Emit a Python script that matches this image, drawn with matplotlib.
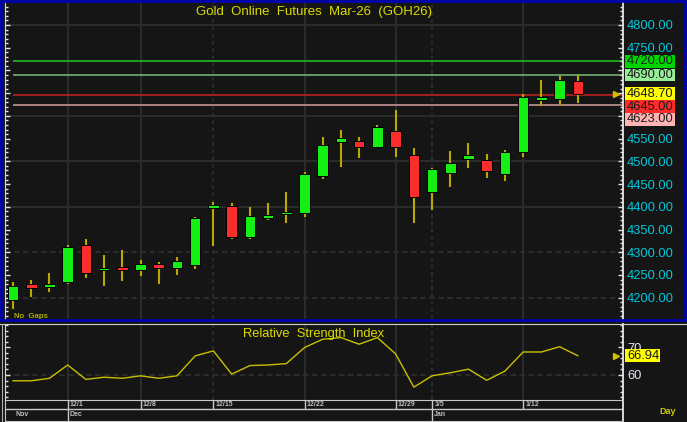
import matplotlib
matplotlib.use('Agg')
import matplotlib.pyplot as plt
import matplotlib.ticker as mticker
from matplotlib.patches import Rectangle
from matplotlib.lines import Line2D
from matplotlib.transforms import blended_transform_factory

plt.rcParams['font.family'] = ['Liberation Sans', 'DejaVu Sans']

# ---------------- data ----------------
title = 'Gold  Online  Futures  Mar-26  (GOH26)'
opens = [4195, 4231, 4223, 4235, 4317, 4260, 4267, 4261, 4274, 4266, 4273, 4397, 4401, 4333, 4375, 4384,
         4386, 4468, 4543, 4545, 4532, 4567, 4514, 4433, 4475, 4505, 4503, 4473, 4520, 4636, 4637, 4677]
highs = [4235, 4239, 4254, 4317, 4329, 4293, 4305, 4283, 4278, 4289, 4378, 4411, 4408, 4400, 4409, 4433,
         4477, 4554, 4569, 4554, 4581, 4614, 4529, 4485, 4523, 4541, 4517, 4525, 4648, 4679, 4687, 4689]
lows = [4175, 4201, 4213, 4231, 4243, 4226, 4237, 4247, 4231, 4251, 4264, 4314, 4329, 4330, 4371, 4365,
        4378, 4461, 4487, 4507, 4529, 4509, 4365, 4393, 4443, 4486, 4463, 4457, 4510, 4622, 4625, 4628]
closes = [4226, 4221, 4231, 4311, 4255, 4265, 4260, 4275, 4266, 4281, 4375, 4403, 4333, 4379, 4381, 4388,
          4473, 4537, 4551, 4531, 4576, 4531, 4421, 4483, 4497, 4515, 4479, 4520, 4642, 4642, 4679, 4648.7]
rsi = [57.9, 57.9, 58.8, 63.6, 58.4, 59.2, 58.8, 59.7, 58.8, 59.7, 66.9, 68.7, 60.3, 63.4, 63.6, 64.1,
       69.9, 72.9, 73.5, 71.1, 73.5, 67.6, 55.6, 59.7, 60.8, 62.1, 58.1, 61.4, 68.3, 68.3, 70.2, 66.94]

date_idx = [3, 7, 11, 16, 21, 23, 28]
date_lbl = ['12/1', '12/8', '12/15', '12/22', '12/29', '1/5', '1/12']
date_dotted = [False, False, True, False, False, True, False]
month_idx = [0, 3, 23]
month_lbl = ['Nov', 'Dec', 'Jan']

price_grid = [4800, 4600, 4500, 4400, 4300, 4200]
price_grid_dashed = [False, False, False, False, True, True]
hidden_ticks = [4600, 4650, 4700]

levels = [4720, 4690, 4645, 4623]
level_line_colors = ['#1fb01f', '#6aa56a', '#b02222', '#b88a8a']
level_box_colors = ['#00d400', '#96ee96', '#ff2a2a', '#ffb4b4']
last_box_color = '#ffff00'

# ---------------- style ----------------
BG = '#151515'
GRID = '#2e2e2e'
UP = '#14f014'
DN = '#fa2d2d'
WICK = '#b9a800'
YEL = '#dcdc00'
CYAN = '#00c8dc'
W, H = 687, 422

fig = plt.figure(figsize=(W / 100, H / 100), dpi=100, facecolor=BG)


def px_axes(l, t, r, b):
    return fig.add_axes([l / W, (H - b) / H, (r - l) / W, (b - t) / H], facecolor=BG)


ax = px_axes(4.5, 3, 623, 318.5)
ax_r = px_axes(4.5, 324, 623, 400)
ax_d = px_axes(4.5, 400, 623, 420.5)

n = len(closes)
xs = list(range(n))
xl = (-0.467, 33.48)
for a in (ax, ax_r, ax_d):
    a.set_xlim(*xl)
    a.set_xticks([])

ax.set_ylim(4154.2, 4848.4)
ax_r.set_ylim(50.97, 78.4)
ax_d.set_ylim(0, 1)

# grid lines
for v, d in zip(price_grid, price_grid_dashed):
    ax.axhline(v, color=GRID, lw=1.3, ls=(0, (3, 2)) if d else '-', zorder=0)
for i, d in zip(date_idx, date_dotted):
    for a in (ax, ax_r):
        a.axvline(i, color=GRID, lw=1.3, ls=(0, (2, 2)) if d else '-', zorder=0)
ax_r.axhline(60, color=GRID, lw=1.3, ls=(0, (3, 2)), zorder=0)

# level lines
for v, c in zip(levels, level_line_colors):
    ax.hlines(v, 0, xl[1], color=c, lw=1.3, zorder=1)

# candles
ax.vlines(xs, lows, highs, color=WICK, lw=1.5, zorder=2)
bottoms = [min(o, c) for o, c in zip(opens, closes)]
heights = [max(abs(c - o), 3) for o, c in zip(opens, closes)]
cols = [UP if c >= o else DN for o, c in zip(opens, closes)]
ax.bar(xs, heights, bottom=bottoms, width=0.58, color=cols, edgecolor='#000000', lw=0.7, zorder=3)

# RSI
ax_r.plot(xs, rsi, color='#c8c000', lw=1.0, zorder=2)

# axes styling
for a in (ax, ax_r):
    for s in ('top', 'bottom'):
        a.spines[s].set_visible(False)
    a.spines['left'].set_color('#d8d8d8')
    a.spines['right'].set_color('#e8e8e8')
    a.spines['right'].set_linewidth(1.3)
    a.yaxis.tick_right()
    a.tick_params(axis='y', which='both', direction='in', left=True, right=True,
                  labelleft=False, labelright=True, color='#e0e0e0', width=1, pad=3,
                  labelsize=9.3)
    a.tick_params(axis='y', which='major', length=3.5)
    a.tick_params(axis='y', which='minor', length=2)

ax.yaxis.set_major_locator(mticker.MultipleLocator(50))
ax.yaxis.set_minor_locator(mticker.MultipleLocator(10))
ax.yaxis.set_major_formatter(mticker.FuncFormatter(
    lambda v, p: '' if round(v) in hidden_ticks else f'{v:.2f}'))
ax.tick_params(axis='y', labelcolor=CYAN)

ax_r.yaxis.set_major_locator(mticker.MultipleLocator(10))
ax_r.yaxis.set_minor_locator(mticker.MultipleLocator(2))
ax_r.yaxis.set_major_formatter(mticker.FuncFormatter(lambda v, p: f'{v:.0f}'))
ax_r.tick_params(axis='y', labelcolor='#dfeaf5')

# right-side label boxes
tb = blended_transform_factory(ax.transAxes, ax.transData)
bx0 = (625 - 4.5) / 618.5
bw = 50 / 618.5
tx = (627 - 4.5) / 618.5
unit = (ax.get_ylim()[1] - ax.get_ylim()[0]) / 315.5  # price per pixel
bh = 12.8 * unit
last = closes[-1]
box_items = [(levels[0], levels[0], level_box_colors[0]),
             (levels[1], levels[1], level_box_colors[1]),
             (last, last, last_box_color),
             (levels[2], last - bh, level_box_colors[2]),
             (levels[3], last - 2 * bh, level_box_colors[3])]
for val, yc, col in box_items:
    ax.add_patch(Rectangle((bx0, yc - bh / 2), bw, bh, transform=tb, facecolor=col,
                           edgecolor='none', clip_on=False, zorder=6))
    ax.text(tx, yc, f'{val:.2f}', transform=tb, color='#1a1a1a', fontsize=9.3,
            va='center', ha='left', clip_on=False, zorder=7)
ax.plot([(616 - 4.5) / 618.5], [last], marker='>', ms=4, color='#d0c000',
        transform=tb, clip_on=False, zorder=7)

tr = blended_transform_factory(ax_r.transAxes, ax_r.transData)
runit = (ax_r.get_ylim()[1] - ax_r.get_ylim()[0]) / 76
rbw = 35 / 618.5
ax_r.add_patch(Rectangle((bx0, rsi[-1] - 6.6 * runit), rbw, 13.2 * runit, transform=tr,
                         facecolor='#ffff00', edgecolor='none', clip_on=False, zorder=6))
ax_r.text(tx, rsi[-1], f'{rsi[-1]:.2f}', transform=tr, color='#1a1a1a', fontsize=9.3,
          va='center', ha='left', clip_on=False, zorder=7)
ax_r.plot([(616 - 4.5) / 618.5], [rsi[-1]], marker='>', ms=4, color='#d0c000',
          transform=tr, clip_on=False, zorder=7)

# titles
ax.text(0.5, 1 - 8.5 / 315.5, title, transform=ax.transAxes, ha='center', va='center',
        color=YEL, fontsize=9.5)
ax_r.text(0.5, 1 - 10 / 76, 'Relative  Strength  Index', transform=ax_r.transAxes,
          ha='center', va='center', color=YEL, fontsize=9.3)
ax.text(13.7 / 618.5 - 4.5 / 618.5, 2.5 / 315.5, 'No  Gaps', transform=ax.transAxes,
        ha='left', va='center', color='#a8a800', fontsize=5.6, fontweight='bold')

# date strip
for s in ('top', 'bottom', 'left'):
    ax_d.spines[s].set_color('#c8c8c8')
ax_d.spines['right'].set_color('#e8e8e8')
ax_d.spines['right'].set_linewidth(1.3)
ax_d.set_yticks([])
ax_d.axhline(0.55, color='#c8c8c8', lw=1)
for i, lab in zip(date_idx, date_lbl):
    ax_d.vlines(i, 0.55, 1, color='#c8c8c8', lw=1)
    ax_d.text(i + 0.12, 0.78, lab, color='#c0c0c0', fontsize=5, fontweight='bold',
              ha='left', va='center')
for i, lab in zip(month_idx, month_lbl):
    if i > 0:
        ax_d.vlines(i, 0, 0.55, color='#c8c8c8', lw=1)
    ax_d.text(i + 0.12, 0.27, lab, color='#c0c0c0', fontsize=5, fontweight='bold',
              ha='left', va='center')
fig.text(659 / W, 1 - 411 / H, 'Day', color='#c8c800', fontsize=6.5, fontweight='bold',
         ha='left', va='center')

# panel borders
fig.add_artist(Rectangle((1.35 / W, (H - 320) / H), (684.5 - 1.35) / W, (320 - 1.35) / H,
                         transform=fig.transFigure, facecolor='none', edgecolor='#0000b4',
                         lw=1.95, zorder=5))
fig.add_artist(Line2D([0, 1], [(H - 323.5) / H] * 2, transform=fig.transFigure,
                      color='#d0d0d0', lw=0.8))
fig.add_artist(Line2D([1.5 / W] * 2, [0, (H - 323.5) / H], transform=fig.transFigure,
                      color='#b0b0b0', lw=0.8))

fig.savefig('out.png', dpi=100, facecolor=BG)
